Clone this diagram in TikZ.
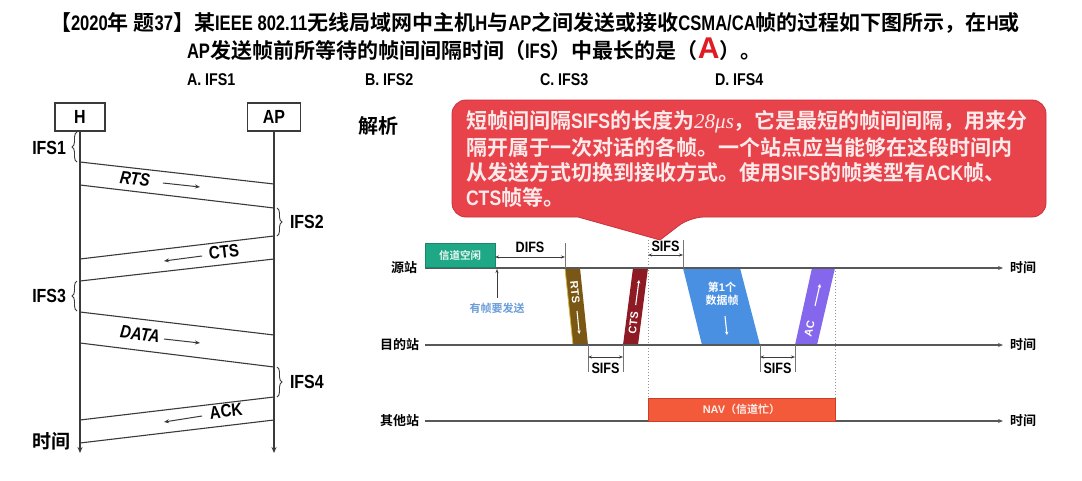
\documentclass[tikz,border=0pt]{standalone}
\usepackage{fontspec}
\setmainfont{Noto Sans CJK SC}[BoldFont={Noto Sans CJK SC Bold}]
\newfontfamily\latn{Liberation Sans}[FakeStretch=0.84]
\newfontfamily\latt{Liberation Sans}[FakeStretch=0.79]
\newfontfamily\arialf{Liberation Sans}
\newfontfamily\serifit{Liberation Serif}
\usetikzlibrary{arrows.meta,decorations.pathreplacing}

\definecolor{ansred}{HTML}{E01B22}
\definecolor{bubblered}{HTML}{E8434B}
\definecolor{bubbleedge}{HTML}{C8323A}
\definecolor{bubbletext}{HTML}{FDEAEA}
\definecolor{idlegreen}{HTML}{1EA886}
\definecolor{rtsbrown}{HTML}{7A5714}
\definecolor{rtsedge}{HTML}{D8B040}
\definecolor{ctsred}{HTML}{8E1B24}
\definecolor{datablue}{HTML}{4A90E2}
\definecolor{ackpurple}{HTML}{8467EC}
\definecolor{navorange}{HTML}{F25A3A}
\definecolor{navedge}{HTML}{C8402A}
\definecolor{hintblue}{HTML}{6A9ED8}
\definecolor{ink}{HTML}{3A3A3A}

\tikzset{
  every node/.style={inner sep=0pt, outer sep=0pt},
  headline/.style={anchor=base west, font=\bfseries\fontsize{21}{21}\selectfont},
  choice/.style={anchor=base west, font=\latn\bfseries\fontsize{17}{17}\selectfont},
  lbox/.style={draw=ink, line width=1.1pt, minimum height=28pt, fill=white,
    font=\latn\bfseries\fontsize{19}{19}\selectfont},
  life/.style={draw=ink, line width=1.1pt, -{Stealth[length=6pt,width=5pt]}},
  frm/.style={draw=ink, line width=1.1pt},
  ifsbrace/.style={draw=ink, line width=0.9pt, decorate,
    decoration={brace, amplitude=5pt}},
  ifslbl/.style={font=\latn\bfseries\fontsize{19}{19}\selectfont},
  msglbl/.style={font=\latn\bfseries\fontsize{18}{18}\selectfont},
  msgarrow/.style={draw=ink, line width=1pt, -{Stealth[length=5pt,width=4pt]}},
  tline/.style={draw=ink!85, line width=1.2pt, -{Stealth[length=5pt,width=4pt]}},
  station/.style={anchor=east, font=\bfseries\fontsize{13}{13}\selectfont},
  timelbl/.style={anchor=west, font=\bfseries\fontsize{13}{13}\selectfont},
  dimline/.style={draw=ink, line width=0.8pt,
    {Stealth[length=4pt,width=3pt]}-{Stealth[length=4pt,width=3pt]}},
  tick/.style={draw=ink!70, line width=0.8pt},
  dimlbl/.style={font=\latn\bfseries\fontsize{15}{15}\selectfont, fill=white, inner xsep=1pt},
  framelbl/.style={text=white, font=\arialf\bfseries\fontsize{11}{11}\selectfont},
  framearrow/.style={draw=white, line width=1.1pt, -{Stealth[length=3.5pt,width=3.5pt]}},
  bubbleline/.style={anchor=west, text=bubbletext, font=\bfseries\fontsize{21}{21}\selectfont},
  dots/.style={draw=ink!55, line width=1pt, dotted},
}

\begin{document}
\begin{tikzpicture}[x=1pt,y=-1pt]
\fill[white] (0,0) rectangle (1082,480);
\useasboundingbox (0,0) rectangle (1082,480);

% ---------- question heading ----------
\node[headline] (q1) at (50,30) {【{\latt 2020}年 题{\latt 37}】某{\latt IEEE 802.11}无线局域网中主机{\latt H}与{\latt AP}之间发送或接收{\latt CSMA/CA}帧的过程如下图所示，在{\latt H}或};
\node[headline] (q2) at (187,58) {{\latt AP}发送帧前所等待的帧间间隔时间（{\latt IFS}）中最长的是（\textcolor{ansred}{\arialf\fontsize{30}{30}\selectfont A}）。};
\node[choice] (ca) at (187,85) {A. IFS1};
\node[choice] (cb) at (365,85) {B. IFS2};
\node[choice] (cc) at (540,85) {C. IFS3};
\node[choice] (cd) at (715,85) {D. IFS4};

% ---------- sequence chart H <-> AP ----------
\node[lbox, minimum width=50pt] (H) at (80,117) {H};
\node[lbox, minimum width=53pt] (AP) at (274,117) {AP};
\coordinate (Hend) at (80,453);
\coordinate (APend) at (274,453);
\draw[life] (H.south) -- (Hend);
\draw[life] (AP.south) -- (APend);

% frame edges
\coordinate (rts1) at (80,162);  \coordinate (rts2) at (274,184);
\coordinate (rts3) at (80,185);  \coordinate (rts4) at (274,208);
\coordinate (cts1) at (274,236); \coordinate (cts2) at (80,259);
\coordinate (cts3) at (274,259); \coordinate (cts4) at (80,281);
\coordinate (dat1) at (80,312);  \coordinate (dat2) at (274,335);
\coordinate (dat3) at (80,343);  \coordinate (dat4) at (274,367);
\coordinate (ack1) at (274,397); \coordinate (ack2) at (80,420);
\coordinate (ack3) at (274,420); \coordinate (ack4) at (80,443);
\draw[frm] (rts1) -- (rts2);
\draw[frm] (rts3) -- (rts4);
\draw[frm] (cts1) -- (cts2);
\draw[frm] (cts3) -- (cts4);
\draw[frm] (dat1) -- (dat2);
\draw[frm] (dat3) -- (dat4);
\draw[frm] (ack1) -- (ack2);
\draw[frm] (ack3) -- (ack4);

% interframe spaces
\coordinate (b1a) at (77,162); \coordinate (b1b) at (77,132);
\coordinate (b2a) at (277,208); \coordinate (b2b) at (277,236);
\coordinate (b3a) at (77,311); \coordinate (b3b) at (77,281);
\coordinate (b4a) at (277,367); \coordinate (b4b) at (277,397);
\draw[ifsbrace] (b1a) -- (b1b);
\draw[ifsbrace] (b2a) -- (b2b);
\draw[ifsbrace] (b3a) -- (b3b);
\draw[ifsbrace] (b4a) -- (b4b);
\node[ifslbl, anchor=east] (ifs1) at (66,148) {IFS1};
\node[ifslbl, anchor=west] (ifs2) at (290,222) {IFS2};
\node[ifslbl, anchor=east] (ifs3) at (66,296) {IFS3};
\node[ifslbl, anchor=west] (ifs4) at (290,382) {IFS4};

% message labels
\node[msglbl, rotate=-6.5] (lrts) at (135,179) {\itshape RTS};
\node[msglbl, rotate=6.5] (lcts) at (224,252) {CTS};
\node[msglbl, rotate=-6.5] (ldata) at (140,334) {\itshape DATA};
\node[msglbl, rotate=6.5] (lack) at (226,411) {ACK};
\coordinate (ar1a) at (163,183); \coordinate (ar1b) at (200,187);
\coordinate (ar2a) at (202,256); \coordinate (ar2b) at (164,261);
\coordinate (ar3a) at (164,339); \coordinate (ar3b) at (200,343);
\coordinate (ar4a) at (202,416); \coordinate (ar4b) at (164,422);
\draw[msgarrow] (ar1a) -- (ar1b);
\draw[msgarrow] (ar2a) -- (ar2b);
\draw[msgarrow] (ar3a) -- (ar3b);
\draw[msgarrow] (ar4a) -- (ar4b);
\node[font=\bfseries\fontsize{19}{19}\selectfont] (tH) at (51,441) {时间};

% ---------- explanation ----------
\node[font=\bfseries\fontsize{20}{20}\selectfont] (jx) at (378,126) {解析};

\path[fill=bubblered, draw=bubbleedge, line width=0.8pt]
  (452,160) [rounded corners=14pt] |- (749,100) -| (1046,160) |- (690,217)
  [sharp corners] -- (660,240) -- (578,217)
  [rounded corners=14pt] -| (452,160) -- cycle;
\node[bubbleline] (bl1) at (466,122) {短帧间间隔{\latn SIFS}的长度为{\serifit\itshape\mdseries 28μs}，它是最短的帧间间隔，用来分};
\node[bubbleline] (bl2) at (466,147) {隔开属于一次对话的各帧。一个站点应当能够在这段时间内};
\node[bubbleline] (bl3) at (466,172) {从发送方式切换到接收方式。使用{\latn SIFS}的帧类型有{\latn ACK}帧、};
\node[bubbleline] (bl4) at (466,197) {{\latn CTS}帧等。};

% ---------- timing chart ----------
\coordinate (src0) at (425,268); \coordinate (src1) at (1003,268);
\coordinate (dst0) at (425,345); \coordinate (dst1) at (1003,345);
\coordinate (oth0) at (425,421); \coordinate (oth1) at (1003,421);

% dotted guides
\coordinate (g1a) at (648,240); \coordinate (g1b) at (648,398);
\coordinate (g2a) at (835,268); \coordinate (g2b) at (835,398);
\draw[dots] (g1a) -- (g1b);
\draw[dots] (g2a) -- (g2b);

% frames on the medium
\fill[rtsbrown] (565,268) -- (580,268) -- (588,345) -- (573,345) -- cycle;
\draw[rtsedge, line width=0.8pt] (565,268) -- (573,345);
\fill[ctsred] (623,345) -- (638,345) -- (648,268) -- (633,268) -- cycle;
\fill[datablue] (683,268) -- (740,268) -- (760,345) -- (702,345) -- cycle;
\fill[ackpurple] (795,345) -- (817,345) -- (835,268) -- (812,268) -- cycle;

\node[framelbl, rotate=-84] (frts) at (575,292) {RTS};
\coordinate (frtsA) at (577,311); \coordinate (frtsB) at (579.3,334);
\draw[framearrow] (frtsA) -- (frtsB);
\node[framelbl, rotate=83] (fcts) at (633.5,323) {CTS};
\coordinate (fctsA) at (635.7,305); \coordinate (fctsB) at (639,280);
\draw[framearrow] (fctsA) -- (fctsB);
\node[framelbl, rotate=77] (fack) at (809.5,329) {AC};
\coordinate (fackA) at (815,306); \coordinate (fackB) at (820,284);
\draw[framearrow] (fackA) -- (fackB);
\node[framelbl, font=\bfseries\fontsize{11}{13}\selectfont, align=center] (fdata) at (722,294) {第{\arialf 1}个\\数据帧};
\coordinate (da) at (725,316); \coordinate (db) at (727,335);
\draw[framearrow] (da) -- (db);

% station axes
\draw[tline] (src0) -- (src1);
\draw[tline] (dst0) -- (dst1);
\draw[tline] (oth0) -- (oth1);
\node[station] (nsrc) at (417,268) {源站};
\node[station] (ndst) at (419,345) {目的站};
\node[station] (noth) at (419,421) {其他站};
\node[timelbl] (t1) at (1010,268) {时间};
\node[timelbl] (t2) at (1010,345) {时间};
\node[timelbl] (t3) at (1010,421) {时间};

% idle channel and DIFS
\node[fill=idlegreen, draw=idlegreen!80!black, line width=0.5pt, minimum width=70pt, minimum height=24pt,
  text=white!92!idlegreen, font=\bfseries\fontsize{10.5}{10.5}\selectfont] (idle) at (460,255) {信道空闲};
\coordinate (difsT) at (565,243); \coordinate (difsB) at (565,268);
\draw[tick] (difsT) -- (difsB);
\coordinate (difsL) at (495,257); \coordinate (difsR) at (565,257);
\draw[dimline] (difsL) -- (difsR);
\node[dimlbl, fill=none] (ndifs) at (530,247) {DIFS};
\coordinate (wantB) at (497,298); \coordinate (wantT) at (497,269);
\draw[draw=ink, line width=1pt, -{Stealth[length=4pt,width=3pt]}] (wantB) -- (wantT);
\node[text=hintblue, font=\bfseries\fontsize{11}{11}\selectfont] (want) at (497,308) {有帧要发送};

% SIFS between RTS and CTS
\coordinate (s1a) at (588,345); \coordinate (s1b) at (588,372);
\coordinate (s1c) at (623,345); \coordinate (s1d) at (623,372);
\draw[tick] (s1a) -- (s1b);
\draw[tick] (s1c) -- (s1d);
\coordinate (s1L) at (588,357); \coordinate (s1R) at (623,357);
\draw[dimline] (s1L) -- (s1R);
\node[dimlbl] (sifs1) at (605.5,368) {SIFS};

% SIFS between CTS and data
\coordinate (s2c) at (683,240); \coordinate (s2d) at (683,268);
\draw[tick] (s2c) -- (s2d);
\coordinate (s2L) at (648,255); \coordinate (s2R) at (683,255);
\draw[dimline] (s2L) -- (s2R);
\node[dimlbl] (sifs2) at (665.5,246) {SIFS};

% SIFS between data and ACK
\coordinate (s3a) at (760,345); \coordinate (s3b) at (760,372);
\coordinate (s3c) at (795,345); \coordinate (s3d) at (795,372);
\draw[tick] (s3a) -- (s3b);
\draw[tick] (s3c) -- (s3d);
\coordinate (s3L) at (760,357); \coordinate (s3R) at (795,357);
\draw[dimline] (s3L) -- (s3R);
\node[dimlbl] (sifs3) at (777.5,368) {SIFS};

% NAV of other stations
\node[fill=navorange, draw=navedge, line width=0.8pt, minimum width=187pt, minimum height=23pt,
  text=white!90!navorange, font=\bfseries\fontsize{11}{11}\selectfont, anchor=north west] (nav) at (648,398) {{\arialf NAV}（信道忙）};
\end{tikzpicture}
\end{document}
